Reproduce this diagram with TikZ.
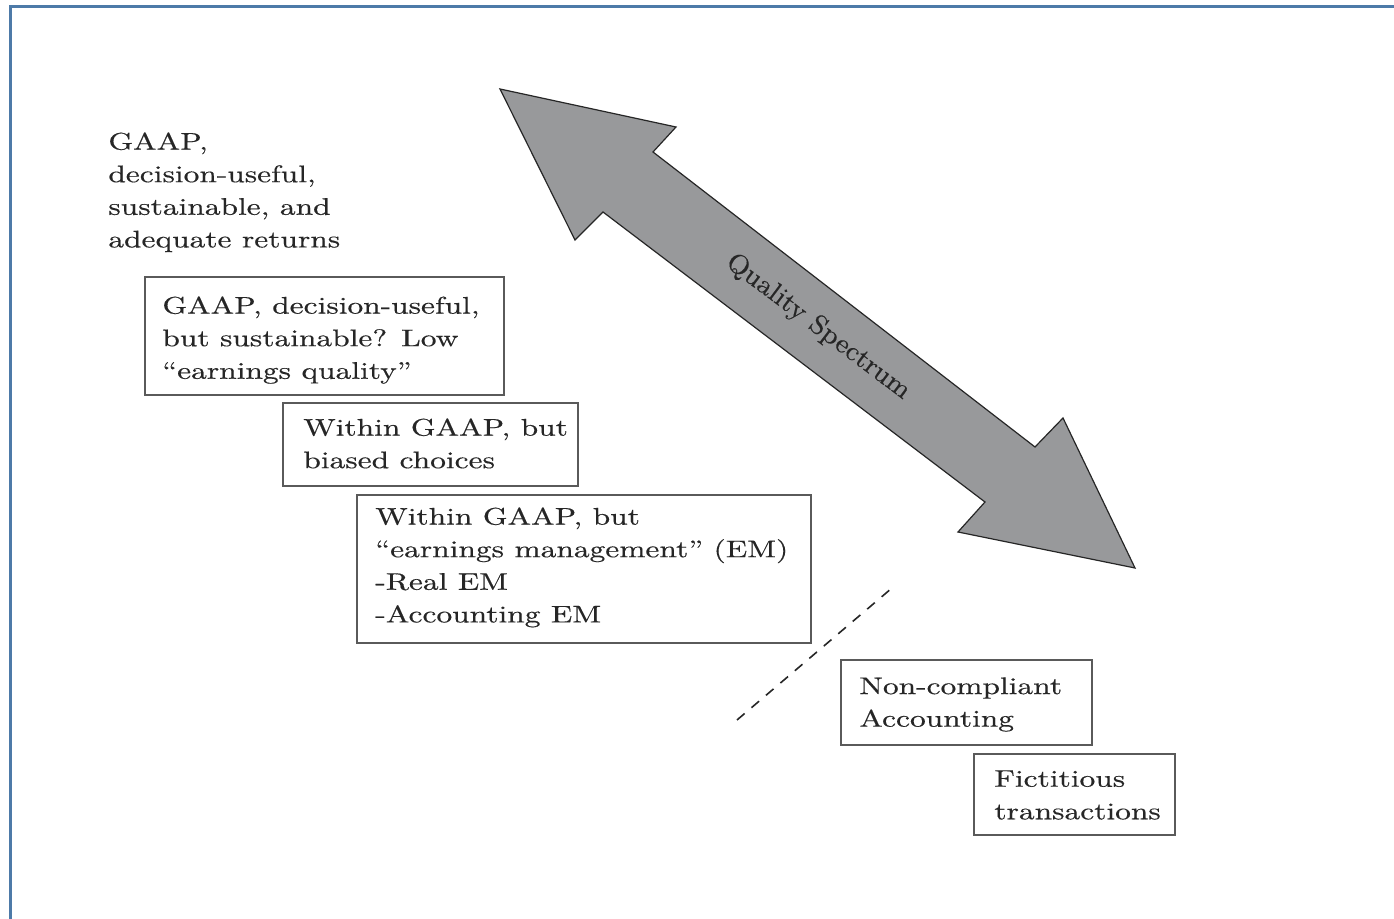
\documentclass[tikz,border=0pt]{standalone}
\usepackage{fontspec}
\setmainfont{lmroman10-regular.otf}[FakeStretch=1.31, FakeBold=0.4]
\newfontfamily\spectrumfont{lmroman10-regular.otf}[FakeStretch=1.06, FakeBold=0.4]
\definecolor{frameblue}{HTML}{4D7AA8}
\definecolor{inkgray}{HTML}{262626}
\definecolor{boxgray}{HTML}{5A5A5A}
\definecolor{arrowfill}{HTML}{98999B}
\tikzset{
  txt/.style={anchor=north west, inner sep=0pt, align=left, text=inkgray,
              font=\fontsize{12}{16.3}\selectfont},
  boxline/.style={draw=boxgray, line width=1pt},
  spectrumarrow/.style={fill=arrowfill, draw=inkgray, line width=0.6pt, line join=miter},
  cutline/.style={draw=inkgray, line width=0.8pt, dash pattern=on 5pt off 4.5pt}
}
\begin{document}
\begin{tikzpicture}[x=0.5pt,y=-0.5pt]
\useasboundingbox (0,0) rectangle (1394,919);
\fill[white] (0,0) rectangle (1394,919);

% outer frame (top and left edges)
\draw[draw=frameblue, line width=1.5pt] (10.5,930) -- (10.5,7) -- (1405,7);

% double-headed block arrow
\draw[spectrumarrow]
  (500,89) -- (676,127) -- (653,152) -- (1035,447) -- (1063,418)
  -- (1135,568) -- (958,532) -- (985,502) -- (603,212) -- (575,240) -- cycle;
\node[rotate=-37, inner sep=0pt, text=inkgray, font=\spectrumfont\fontsize{13.5}{15}\selectfont]
  (spectrum) at (818,327) {Quality Spectrum};

% unboxed top category
\node[txt] (top) at (108,132) {GAAP,\\decision-useful,\\sustainable, and\\adequate returns};

% boxed categories
\draw[boxline] (145,277) rectangle (504,395);
\node[txt] (low) at (162,296) {GAAP, decision-useful,\\but sustainable? Low\\``earnings quality''};

\draw[boxline] (283,403) rectangle (578,486);
\node[txt] (biased) at (303,418) {Within GAAP, but\\biased choices};

\draw[boxline] (357,495) rectangle (811,643);
\node[txt] (em) at (375,507) {Within GAAP, but\\``earnings management'' (EM)\\-Real EM\\-Accounting EM};

\draw[boxline] (841,660) rectangle (1092,745);
\node[txt] (noncomp) at (859,677) {Non-compliant\\Accounting};

\draw[boxline] (974,754) rectangle (1175,835);
\node[txt] (fict) at (994,770) {Fictitious\\transactions};

% boundary between compliant and non-compliant reporting
\coordinate (cutA) at (737,720);
\coordinate (cutB) at (892,588);
\draw[cutline] (cutA) -- (cutB);
\end{tikzpicture}
\end{document}
